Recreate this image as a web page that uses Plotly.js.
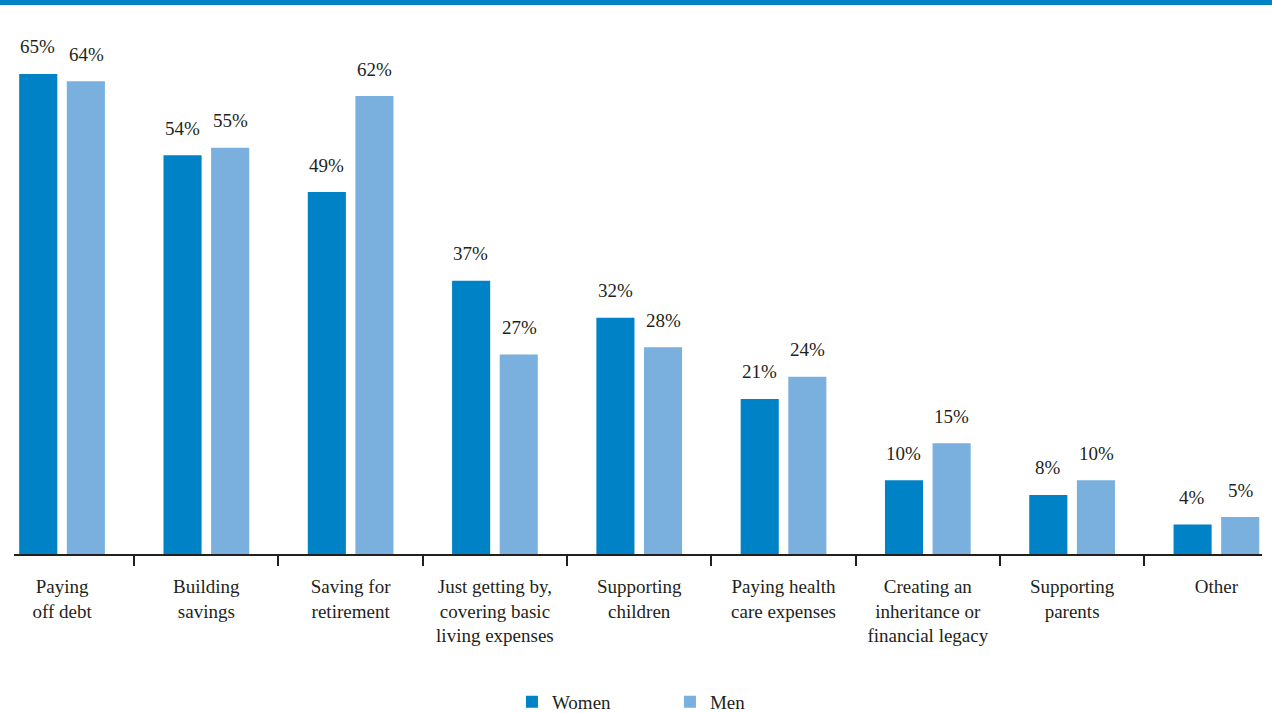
<!DOCTYPE html>
<html>
<head>
<meta charset="utf-8">
<script src="https://cdn.plot.ly/plotly-3.0.1.min.js"></script>
<style>html,body{margin:0;padding:0;background:#fff;}#chart{width:1272px;height:713px;}</style>
</head>
<body>
<div id="chart"></div>
<script>
var categories = ["Paying<br>off debt", "Building<br>savings", "Saving for<br>retirement",
  "Just getting by,<br>covering basic<br>living expenses", "Supporting<br>children",
  "Paying health<br>care expenses", "Creating an<br>inheritance or<br>financial legacy",
  "Supporting<br>parents", "Other"];
var women = [65, 54, 49, 37, 32, 21, 10, 8, 4];
var men = [64, 55, 62, 27, 28, 24, 15, 10, 5];
var seriesNames = ["Women", "Men"];
var colors = ["#0082c6", "#79b0de"];

var FONT = "'Liberation Serif', 'DejaVu Serif', serif";
var TXT = "#231f20";

var traces = [
  {type: "bar", name: seriesNames[0], x: categories, y: women, marker: {color: colors[0]}, hoverinfo: "none"},
  {type: "bar", name: seriesNames[1], x: categories, y: men, marker: {color: colors[1]}, hoverinfo: "none"}
];

var annotations = [];
var off = 0.167;
[women, men].forEach(function (vals, s) {
  vals.forEach(function (v, i) {
    annotations.push({
      xref: "x", yref: "y", x: i + (s === 0 ? -off : off), y: v,
      text: v + "%", showarrow: false, yanchor: "middle", yshift: 27,
      font: {family: FONT, size: 19, color: TXT}
    });
  });
});

var layout = {
  width: 1272, height: 713,
  margin: {l: 14, r: 10, t: 37, b: 159, autoexpand: false},
  paper_bgcolor: "#fff", plot_bgcolor: "#fff",
  barmode: "group", bargap: 0.34, bargroupgap: 0.2,
  font: {family: FONT, size: 19, color: TXT},
  xaxis: {
    type: "category", range: [-0.333, 8.316], automargin: false,
    showline: true, linecolor: TXT, linewidth: 2,
    ticks: "outside", tickson: "boundaries", ticklen: 10, tickwidth: 2, tickcolor: TXT,
    ticklabelstandoff: 14,
    showgrid: false, zeroline: false,
    tickfont: {family: FONT, size: 19, color: TXT}
  },
  yaxis: {range: [0, 70], visible: false, showgrid: false, zeroline: false, fixedrange: true, automargin: false},
  showlegend: true,
  legend: {
    orientation: "h", x: 0.399, xanchor: "left", y: -0.286, yanchor: "middle",
    entrywidth: 113, entrywidthmode: "pixels",
    font: {family: FONT, size: 19, color: TXT}
  },
  annotations: annotations,
  shapes: [{
    type: "rect", xref: "paper", yref: "paper", x0: -0.05, x1: 1.05,
    ysizemode: "pixel", yanchor: 1, y0: 32, y1: 40,
    fillcolor: "#0082c6", line: {width: 0}
  }]
};

Plotly.newPlot("chart", traces, layout, {displayModeBar: false, staticPlot: true});
</script>
</body>
</html>
